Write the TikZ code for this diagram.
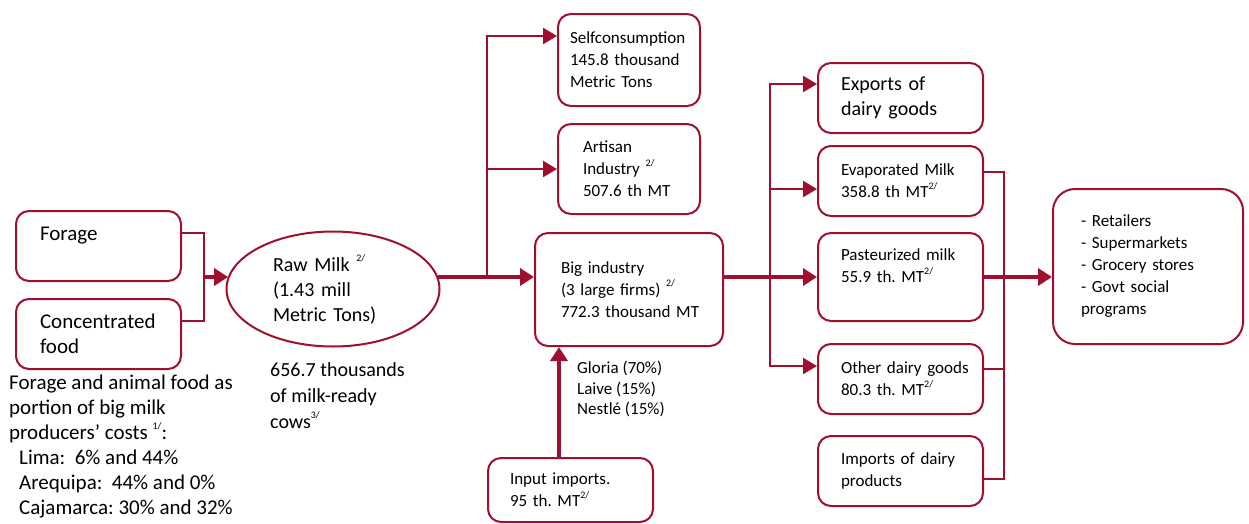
\documentclass[tikz,border=0pt]{standalone}
\usepackage{fontspec}
\setmainfont{Carlito}
\usepackage{tikz}
\usetikzlibrary{arrows.meta,positioning,shapes.geometric}
\definecolor{dairy}{RGB}{158,16,46}
\hyphenpenalty=10000
\exhyphenpenalty=10000
\frenchspacing
\newcommand{\sups}[1]{\raisebox{0.5em}{\fontsize{10}{10}\selectfont #1}}
\tikzset{%
	box/.style      = {draw=dairy, line width=2pt, rounded corners=13pt, anchor=north west, align=left, inner ysep=2pt},
	oval/.style     = {draw=dairy, line width=2pt, ellipse, align=left},
	note/.style     = {anchor=north west, align=left, inner sep=0pt},
	bigtxt/.style   = {font=\fontsize{21}{25}\selectfont},
	ovaltxt/.style  = {font=\fontsize{20}{25}\selectfont},
	midtxt/.style   = {font=\fontsize{17}{22}\selectfont},
	mainflow/.style = {draw=dairy, line width=4.5pt, -{Triangle[length=14pt,width=17pt]}},
	branch/.style   = {draw=dairy, line width=2.5pt, -{Triangle[length=14pt,width=16pt]}},
	joiner/.style   = {draw=dairy, line width=2pt},
}
\begin{document}
\begin{tikzpicture}[x=1pt,y=-1pt]
	\useasboundingbox (0,0) rectangle (1249,523);
	
	% feed and raw milk
	\node[box, bigtxt, text width=117pt, inner xsep=24pt, minimum height=70pt] (forage) at (15,210) {Forage\\\mbox{}};
	\node[box, bigtxt, text width=117pt, inner xsep=24pt, minimum height=70pt] (conc) at (15,298) {Concentrated\\food};
	\node[oval, ovaltxt, minimum width=213pt, minimum height=115pt, text width=120pt, inner sep=2pt] (raw) at (333,289) {Raw Milk \sups{2/}\\(1.43 mill\\Metric Tons)};
	\node[note, ovaltxt, font=\fontsize{20}{26}\selectfont] (cows) at (270,362) {656.7 thousands\\of milk-ready\\cows\sups{3/}};
	\node[note, bigtxt] (costs) at (9,375) {Forage and animal food as\\portion of big milk\\producers’ costs \sups{1/}:\\\hspace*{10pt}Lima:~ 6\% and 44\%\\\hspace*{10pt}Arequipa:~ 44\% and 0\%\\\hspace*{10pt}Cajamarca: 30\% and 32\%};
	
	% uses of raw milk
	\node[box, midtxt, text width=118pt, inner xsep=12pt, minimum height=92pt] (self) at (557,13) {Selfconsumption\\145.8 thousand\\Metric Tons};
	\node[box, midtxt, text width=92pt, inner xsep=25pt, minimum height=90pt] (artisan) at (557,123) {Artisan\\Industry \sups{2/}\\507.6 th MT};
	\node[box, midtxt, text width=136pt, inner xsep=26pt, minimum height=113pt] (big) at (534,232) {Big industry\\(3 large firms) \sups{2/}\\772.3~thousand~MT};
	\node[note, font=\fontsize{17}{20.5}\selectfont] (firms) at (577,361) {Gloria (70\%)\\Laive (15\%)\\Nestlé (15\%)};
	\node[box, midtxt, text width=121pt, inner xsep=22pt, minimum height=64pt] (input) at (487,457) {Input imports.\\95 th. MT\sups{2/}};
	
	% dairy goods
	\node[box, ovaltxt, text width=119pt, inner xsep=23pt, minimum height=70pt] (exports) at (817,62) {Exports of\\dairy goods};
	\node[box, midtxt, text width=119pt, inner xsep=23pt, minimum height=70pt] (evap) at (817,145) {Evaporated~Milk\\358.8 th MT\sups{2/}};
	\node[box, midtxt, text width=119pt, inner xsep=23pt, minimum height=88pt] (past) at (817,232) {Pasteurized~milk\\55.9 th. MT\sups{2/}\\\mbox{}};
	\node[box, midtxt, text width=119pt, inner xsep=23pt, minimum height=70pt] (other) at (817,343) {Other~dairy~goods\\80.3 th. MT\sups{2/}};
	\node[box, midtxt, text width=119pt, inner xsep=23pt, minimum height=70pt] (imports) at (817,435) {Imports~of~dairy\\products};
	\node[box, midtxt, text width=134pt, inner xsep=28pt, minimum height=155pt, rounded corners=22pt] (retail) at (1052,188) {- Retailers\\- Supermarkets\\- Grocery stores\\- Govt social\\programs};
	
	% joints
	\coordinate (fj) at (204,277);
	\coordinate (rj) at (487,277);
	\coordinate (bj) at (770,277);
	\coordinate (cj) at (1004,277);
	
	\draw[joiner] ([yshift=13pt]forage.east) -| (fj) |- ([yshift=13pt]conc.east);
	\draw[mainflow] (fj) -- (raw.173 |- fj);
	
	\draw[mainflow] (raw.7 |- rj) -- (big.west |- rj);
	\draw[branch] (rj) |- ([yshift=24pt]self.west);
	\draw[branch] (rj) |- (artisan.west);
	\draw[mainflow] ([xshift=-11.5pt]input.north) -- ([xshift=-11.5pt]input.north |- big.south);
	
	\draw[mainflow] (big.east |- bj) -- (past.west |- bj);
	\draw[branch] (bj) |- ([yshift=14pt]exports.west);
	\draw[branch] (bj) |- ([yshift=-8pt]evap.west);
	\draw[branch] (bj) |- ([yshift=13pt]other.west);
	
	\draw[joiner] ([yshift=9pt]evap.east) -| (cj) |- ([yshift=-8pt]imports.east);
	\draw[joiner] ([yshift=10pt]other.east) -- ([yshift=10pt]other.east -| cj);
	\draw[mainflow] (past.east |- cj) -- (retail.west |- cj);
\end{tikzpicture}
\end{document}
